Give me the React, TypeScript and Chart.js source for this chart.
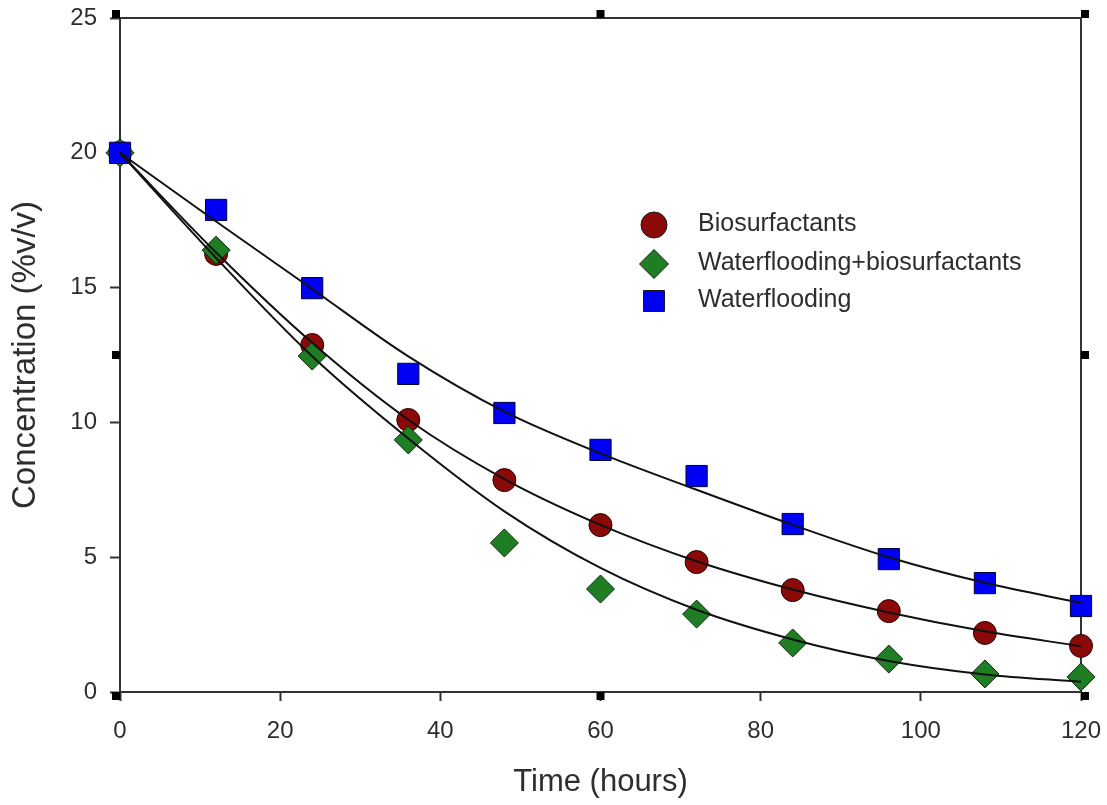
import React, { useEffect, useRef } from 'react';
import { Chart, registerables } from 'chart.js';

Chart.register(...registerables);

// Sampling times (hours)
const hours = [0, 12, 24, 36, 48, 60, 72, 84, 96, 108, 120];

// Measured concentrations (%v/v)
const biosurfactants = [20, 16.25, 12.87, 10.09, 7.86, 6.19, 4.82, 3.78, 3.0, 2.19, 1.71];
const waterBiosurfactants = [20, 16.39, 12.46, 9.35, 5.53, 3.82, 2.89, 1.82, 1.22, 0.67, 0.56];
const waterflooding = [20, 17.88, 14.98, 11.8, 10.35, 8.98, 8.01, 6.23, 4.93, 4.04, 3.19];

// Fitted decay curves at the same sampling times
const biosurfactantsFit = [20, 16.3, 12.95, 10.1, 7.9, 6.2, 4.85, 3.8, 2.95, 2.25, 1.7];
const waterBiosurfactantsFit = [20, 16.1, 12.45, 9.4, 6.7, 4.6, 3.05, 1.95, 1.15, 0.65, 0.38];
const waterfloodingFit = [20, 17.45, 14.95, 12.45, 10.4, 8.85, 7.5, 6.2, 5.0, 4.05, 3.3];

// Axis tick values
const xTickValues = [0, 20, 40, 60, 80, 100, 120];
const yTickValues = [0, 5, 10, 15, 20, 25];

const seriesNames = ['Biosurfactants', 'Waterflooding+biosurfactants', 'Waterflooding'];

const FONT = "'Liberation Sans', Arial, sans-serif";
const TEXT = '#2e2e2e';
const AXIS = '#333333';

const RED = '#8a0a0a';
const GREEN = '#1f7d23';
const BLUE = '#0000f5';

const toPoints = (ys: number[]) => hours.map((x, i) => ({ x, y: ys[i] }));

function drawMarker(ctx: CanvasRenderingContext2D, style: string, x: number, y: number, r: number, fill: string) {
  ctx.save();
  ctx.beginPath();
  if (style === 'circle') {
    ctx.arc(x, y, r, 0, Math.PI * 2);
  } else if (style === 'rectRot') {
    ctx.moveTo(x - r, y);
    ctx.lineTo(x, y - r);
    ctx.lineTo(x + r, y);
    ctx.lineTo(x, y + r);
    ctx.closePath();
  } else {
    ctx.rect(x - r, y - r, 2 * r, 2 * r);
  }
  ctx.fillStyle = fill;
  ctx.fill();
  ctx.lineWidth = 1;
  ctx.strokeStyle = '#1a1a1a';
  ctx.stroke();
  ctx.restore();
}

// Top/right frame lines and the small square handles around the plot frame
const framePlugin = {
  id: 'frame',
  beforeDatasetsDraw(chart: any) {
    const { ctx, chartArea: a } = chart;
    ctx.save();
    ctx.strokeStyle = AXIS;
    ctx.lineWidth = 2;
    ctx.beginPath();
    ctx.moveTo(a.left, a.top);
    ctx.lineTo(a.right, a.top);
    ctx.lineTo(a.right, a.bottom);
    ctx.stroke();
    ctx.restore();
  },
  afterDraw(chart: any) {
    const { ctx, chartArea: a } = chart;
    const s = 8;
    const midX = (a.left + a.right) / 2;
    const midY = (a.top + a.bottom) / 2;
    const boxes = [
      [a.left - s, a.top - s],
      [midX - s / 2, a.top - s],
      [a.right, a.top - s],
      [a.left - s, midY - s / 2],
      [a.right, midY - s / 2],
      [a.left - s, a.bottom],
      [midX - s / 2, a.bottom],
      [a.right, a.bottom],
    ];
    ctx.save();
    ctx.fillStyle = '#000';
    boxes.forEach(([x, y]) => ctx.fillRect(x, y, s, s));
    ctx.restore();
  },
};

// Legend inside the plot area
const legendPlugin = {
  id: 'innerLegend',
  afterDraw(chart: any) {
    const { ctx, chartArea: a } = chart;
    const styles = [
      { style: 'circle', r: 13, fill: RED },
      { style: 'rectRot', r: 14.5, fill: GREEN },
      { style: 'rect', r: 10.5, fill: BLUE },
    ];
    const markerX = a.left + 534;
    const textX = a.left + 578;
    const rows = [a.top + 206, a.top + 245, a.top + 282];
    ctx.save();
    ctx.font = `25px ${FONT}`;
    ctx.fillStyle = TEXT;
    ctx.textBaseline = 'middle';
    ctx.textAlign = 'left';
    seriesNames.forEach((name, i) => {
      const st = styles[i];
      drawMarker(ctx, st.style, markerX, rows[i] + 1, st.r, st.fill);
      ctx.fillStyle = TEXT;
      ctx.fillText(name, textX, rows[i]);
    });
    ctx.restore();
  },
};

export default function App() {
  const canvasRef = useRef<HTMLCanvasElement | null>(null);

  useEffect(() => {
    if (!canvasRef.current) return;

    const fitStyle = {
      showLine: true,
      pointRadius: 0,
      borderColor: '#111111',
      borderWidth: 2,
      backgroundColor: 'transparent',
      cubicInterpolationMode: 'monotone' as const,
      clip: false as const,
      order: 0,
    };

    const chart = new Chart(canvasRef.current, {
      type: 'scatter',
      data: {
        datasets: [
          {
            label: seriesNames[0],
            data: toPoints(biosurfactants),
            pointStyle: 'circle',
            pointRadius: 11.5,
            backgroundColor: RED,
            borderColor: '#2a0000',
            borderWidth: 1,
            clip: false,
            order: 3,
          },
          {
            label: seriesNames[1],
            data: toPoints(waterBiosurfactants),
            pointStyle: 'rectRot',
            pointRadius: 14,
            backgroundColor: GREEN,
            borderColor: '#0d2a0d',
            borderWidth: 1,
            clip: false,
            order: 2,
          },
          {
            label: seriesNames[2],
            data: toPoints(waterflooding),
            pointStyle: 'rect',
            pointRadius: 15,
            backgroundColor: BLUE,
            borderColor: '#00003a',
            borderWidth: 1,
            clip: false,
            order: 1,
          },
          { label: 'fit-bio', data: toPoints(biosurfactantsFit), ...fitStyle },
          { label: 'fit-wb', data: toPoints(waterBiosurfactantsFit), ...fitStyle },
          { label: 'fit-w', data: toPoints(waterfloodingFit), ...fitStyle },
        ],
      },
      options: {
        animation: false,
        responsive: false,
        devicePixelRatio: 1,
        layout: { padding: { top: 18, right: 26, left: 0, bottom: 0 } },
        plugins: {
          legend: { display: false },
          tooltip: { enabled: false },
        },
        scales: {
          x: {
            type: 'linear',
            min: 0,
            max: 120,
            afterBuildTicks: (s: any) => {
              s.ticks = xTickValues.map((value) => ({ value }));
            },
            afterFit: (s: any) => {
              s.height = 113;
              s.paddingLeft = 0;
              s.paddingRight = 0;
            },
            grid: {
              drawOnChartArea: false,
              drawTicks: true,
              tickLength: 9,
              tickWidth: 2,
              tickColor: AXIS,
            },
            border: { display: true, color: AXIS, width: 2 },
            ticks: {
              font: { family: FONT, size: 24 },
              color: TEXT,
              padding: 16,
              maxRotation: 0,
            },
            title: {
              display: true,
              text: 'Time (hours)',
              font: { family: FONT, size: 31 },
              color: TEXT,
              padding: { top: 0, bottom: 4 },
            },
          },
          y: {
            type: 'linear',
            min: 0,
            max: 25,
            afterBuildTicks: (s: any) => {
              s.ticks = yTickValues.map((value) => ({ value }));
            },
            afterFit: (s: any) => {
              s.width = 120;
              s.paddingTop = 0;
              s.paddingBottom = 0;
            },
            grid: {
              drawOnChartArea: false,
              drawTicks: true,
              tickLength: 10,
              tickWidth: 2,
              tickColor: AXIS,
            },
            border: { display: true, color: AXIS, width: 2 },
            ticks: {
              font: { family: FONT, size: 24 },
              color: TEXT,
              padding: 13,
            },
            title: {
              display: true,
              text: 'Concentration (%v/v)',
              font: { family: FONT, size: 33 },
              color: TEXT,
              padding: { top: 6, bottom: 0 },
            },
          },
        },
      },
      plugins: [framePlugin, legendPlugin],
    } as any);

    return () => chart.destroy();
  }, []);

  return (
    <div style={{ position: 'absolute', left: 0, top: 0, width: 1107, height: 805, background: '#fff' }}>
      <canvas ref={canvasRef} width={1107} height={805} />
    </div>
  );
}
